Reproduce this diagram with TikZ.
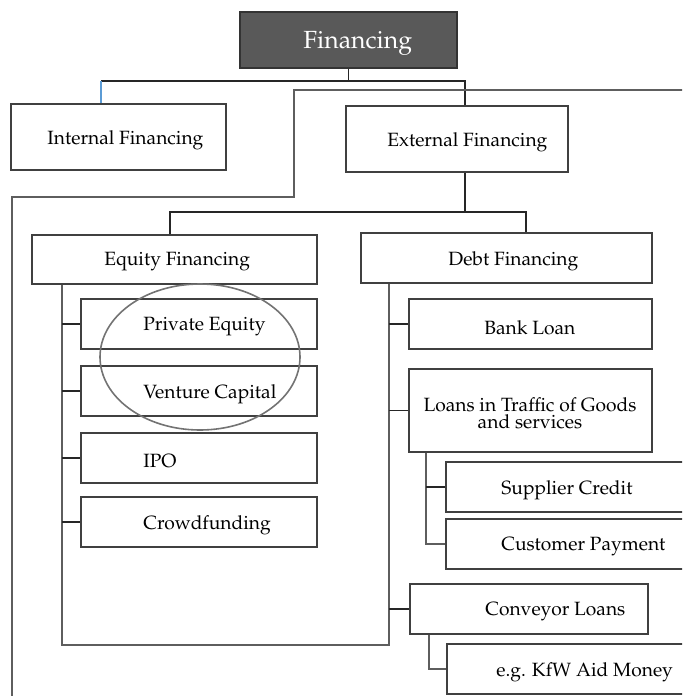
\documentclass[tikz,border=0pt]{standalone}
\usepackage[T1]{fontenc}
\usepackage{mathpazo}
\usetikzlibrary{fit}
\definecolor{titlegray}{HTML}{595959}
\definecolor{wiregray}{HTML}{5E5E5E}
\definecolor{wireblue}{HTML}{5B9BD5}
\tikzset{
	box/.style={draw=black!75, line width=0.65pt, inner sep=0pt},
	lbl/.style={anchor=west, inner sep=0pt, yshift=-1.5pt, font=\fontsize{9.6}{8.5}\selectfont},
	wire/.style={draw=black!85, line width=0.55pt},
	graywire/.style={draw=wiregray, line width=0.75pt}
}

\begin{document}
\begin{tikzpicture}[x=0.5pt, y=-0.5pt]
		%%%%% START %%%%%
		\clip (0, 0) rectangle (682, 696);
		
		\node[box, fill=titlegray, draw=black!80, fit={(240, 12) (457, 68)}] (fin) {};
		\node[lbl, text=white, font=\fontsize{12.4}{14}\selectfont] (fint) at (303, 40) {Financing};
		
		\node[box, fit={(11, 104) (226, 170)}] (int) {};
		\node[lbl] (intt) at (47, 137) {Internal Financing};
		\node[box, fit={(346, 106) (568, 172)}] (ext) {};
		\node[lbl] (extt) at (387, 139) {External Financing};
		
		\coordinate (tl) at (101, 81);
		\coordinate (tr) at (465, 81);
		\draw[wire] (fin.south) -- (fin.south |- tl);
		\draw[wire] (tl) -- (tr) -- (tr |- ext.north);
		\draw[draw=wireblue, line width=0.6pt] (tl) -- (tl |- int.north);
		
		\draw[graywire] (690, 90) -- (294, 90) -- (294, 197) -- (12, 197) -- (12, 700);
		
		\node[box, fit={(32, 235) (317, 284)}] (eq) {};
		\node[lbl] (eqt) at (104, 259) {Equity Financing};
		\node[box, fit={(361, 233) (652, 283)}] (debt) {};
		\node[lbl] (debtt) at (448, 258) {Debt Financing};
		
		\coordinate (ml) at (170, 212);
		\coordinate (mr) at (526, 212);
		\draw[wire] (tr |- ext.south) -- (tr |- ml);
		\draw[wire] (ml |- eq.north) -- (ml) -- (mr) -- (mr |- debt.north);
		
		% equity side
		\node[box, fit={(81, 299) (317, 349)}] (pe) {};
		\node[lbl] (pet) at (143, 324) {Private Equity};
		\node[box, fit={(81, 366) (317, 416)}] (vc) {};
		\node[lbl] (vct) at (143, 391) {Venture Capital};
		\node[box, fit={(81, 433) (317, 483)}] (ipo) {};
		\node[lbl] (ipot) at (143, 458) {IPO};
		\node[box, fit={(81, 497) (317, 547)}] (crowd) {};
		\node[lbl] (crowdt) at (143, 522) {Crowdfunding};
		
		\draw[draw=black!55, line width=0.8pt] (200, 357) ellipse [x radius=100, y radius=73];
		
		% debt side
		\node[box, fit={(409, 299) (652, 349)}] (bank) {};
		\node[lbl] (bankt) at (484, 325) {Bank Loan};
		\node[box, fit={(409, 369) (652, 452)}] (loans) {};
		\node[lbl, anchor=center, align=center] (loanst) at (530, 410) {Loans in Traffic of Goods\\and services};
		\node[box, fit={(446, 462) (690, 512)}] (sup) {};
		\node[lbl] (supt) at (501, 487) {Supplier Credit};
		\node[box, fit={(446, 519) (690, 569)}] (cust) {};
		\node[lbl] (custt) at (501, 544) {Customer Payment};
		\node[box, fit={(410, 584) (648, 634)}] (conv) {};
		\node[lbl] (convt) at (485, 609) {Conveyor Loans};
		\node[box, fit={(447, 644) (690, 694)}] (kfw) {};
		\node[lbl] (kfwt) at (496, 669) {e.g. KfW Aid Money};
		
		\coordinate (es) at (62, 645);
		\coordinate (ds) at (389, 645);
		\draw[graywire] (es |- eq.south) -- (es) -- (ds) -- (ds |- debt.south);
		\foreach \b in {pe, vc, ipo, crowd}
			\draw[wire] (es |- \b.west) -- (\b.west);
		\foreach \b in {bank, loans, conv}
			\draw[wire] (ds |- \b.west) -- (\b.west);
		
		\coordinate (ls) at (426, 543);
		\draw[graywire] (ls |- loans.south) -- (ls |- cust.west) -- (cust.west);
		\draw[wire] (ls |- sup.west) -- (sup.west);
		\coordinate (cs) at (429, 670);
		\draw[graywire] (cs |- conv.south) -- (cs |- kfw.west) -- (kfw.west);
		%%%%% END %%%%%
	\end{tikzpicture}
\end{document}
